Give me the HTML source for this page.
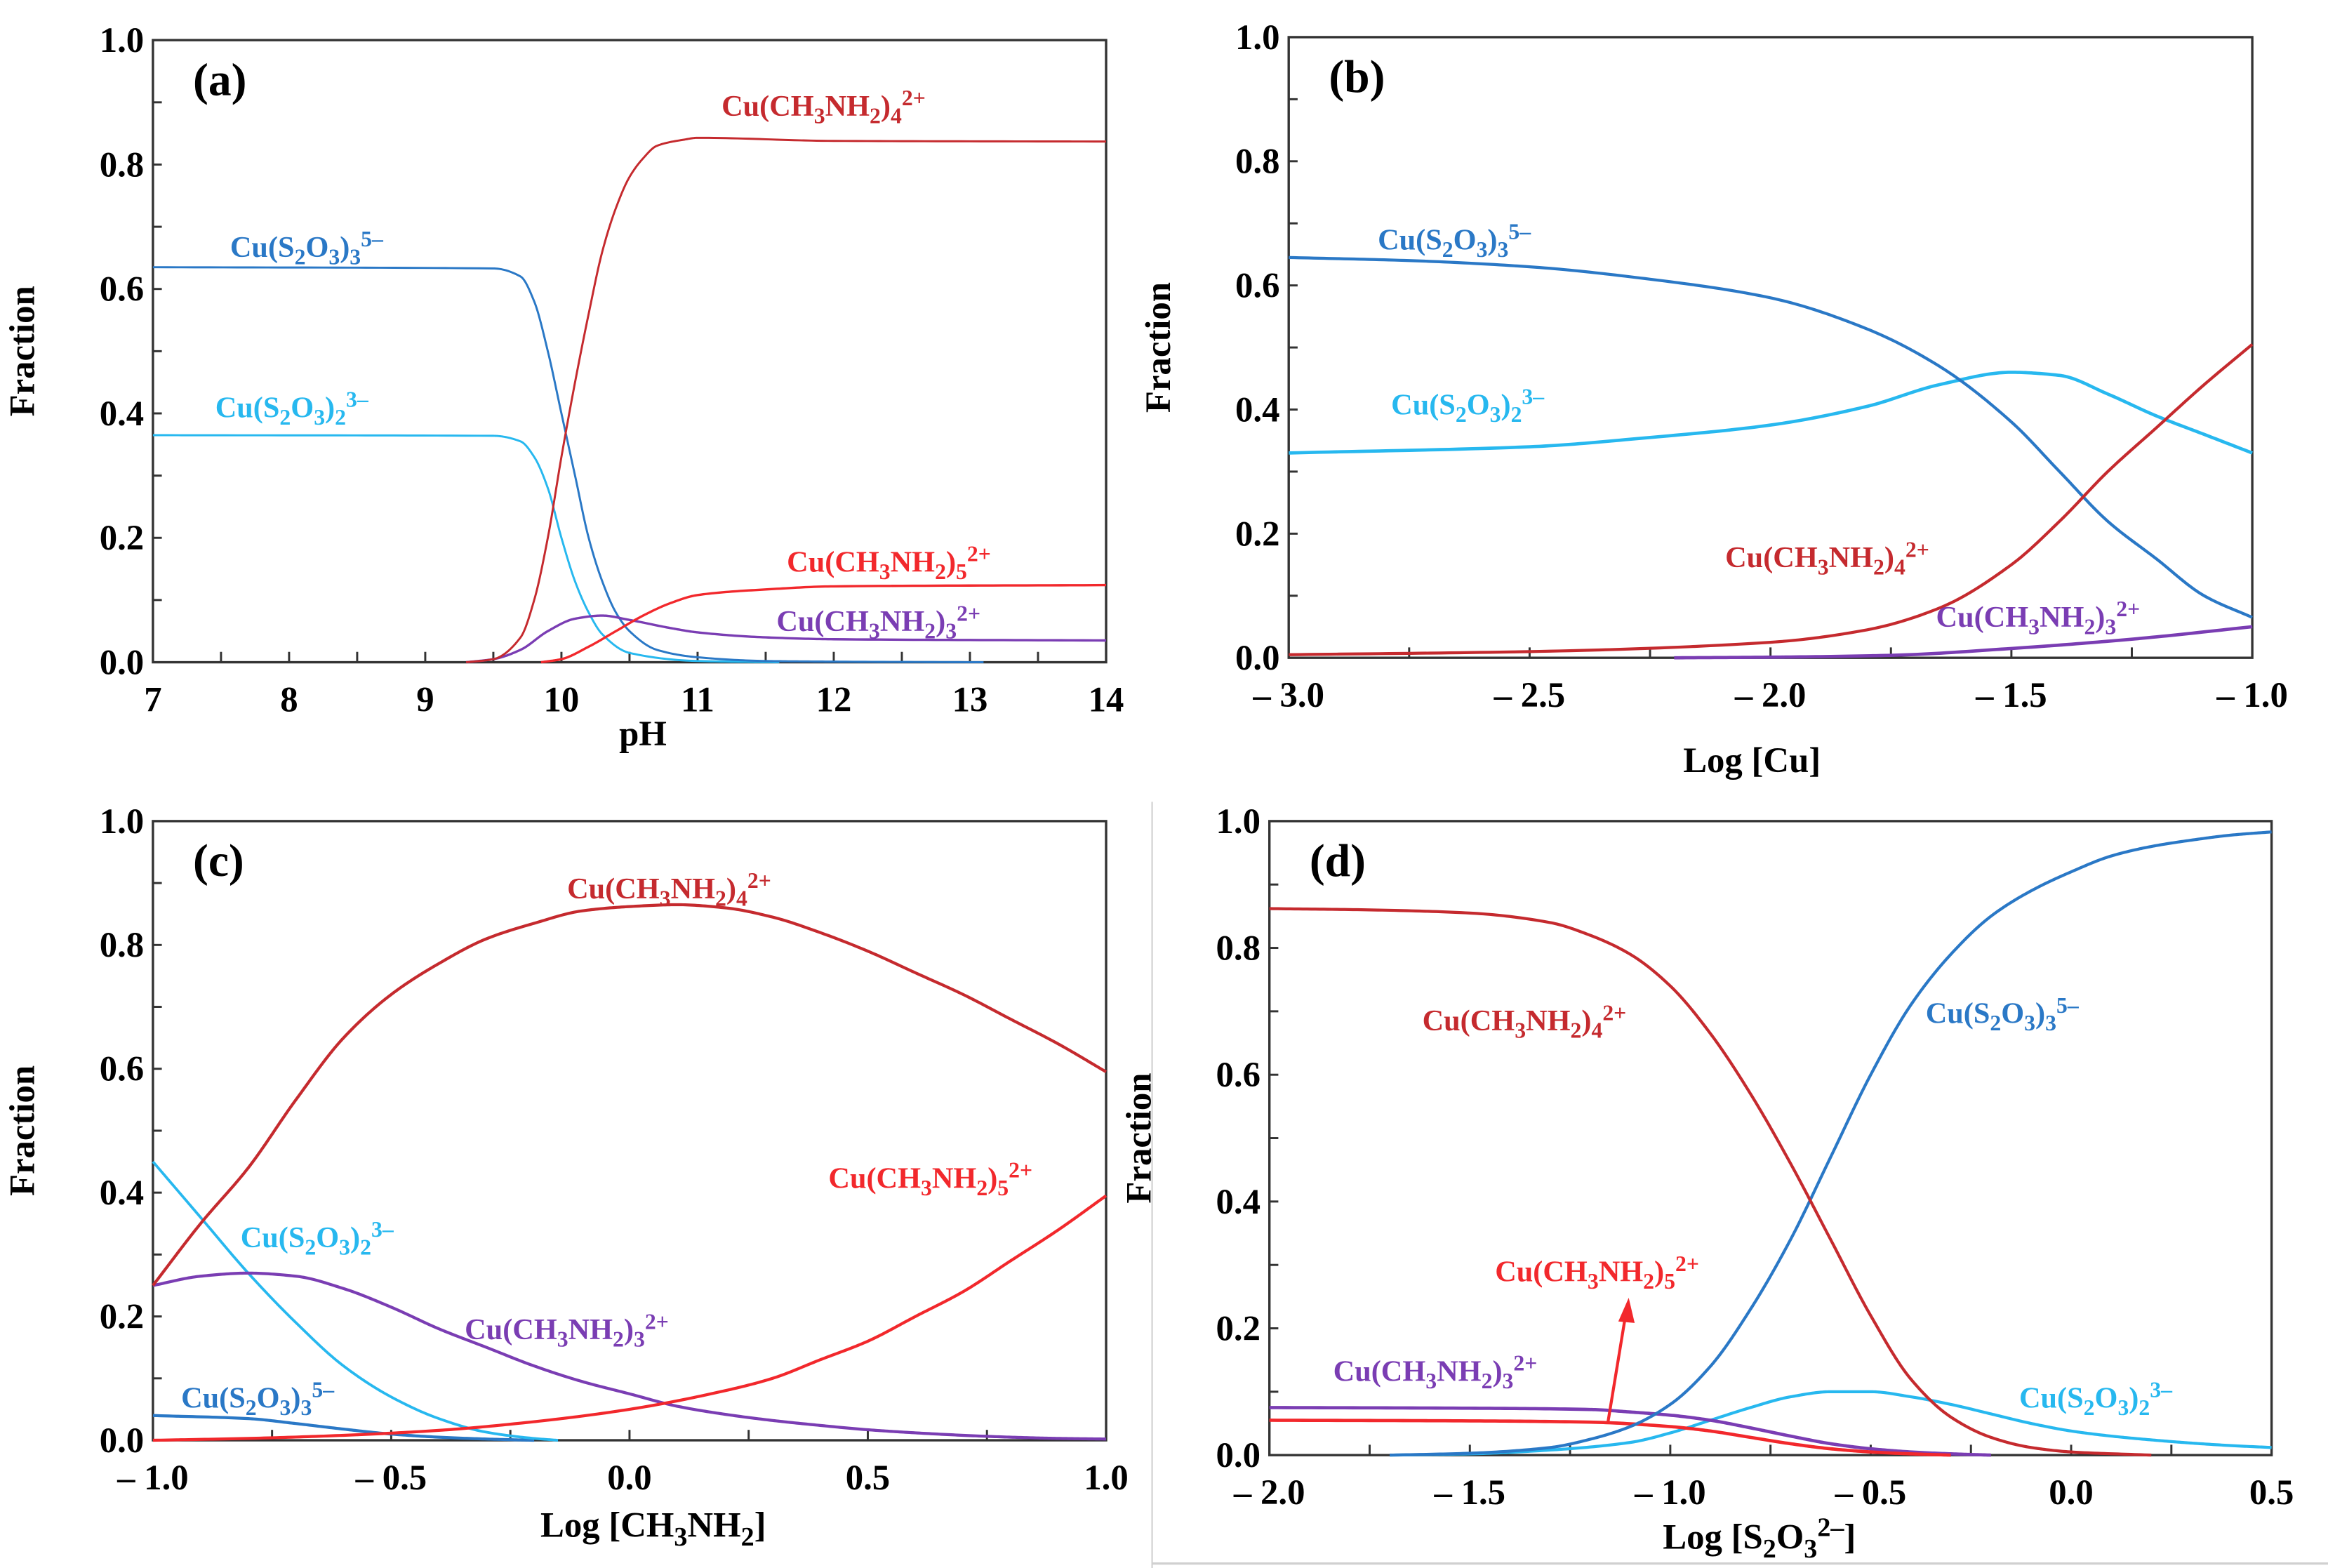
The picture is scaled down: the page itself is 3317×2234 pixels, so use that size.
<!DOCTYPE html>
<html><head><meta charset="utf-8"><style>
html,body{margin:0;padding:0;background:#fff}
svg{display:block}
text{font-family:"Liberation Serif",serif;font-weight:bold}
</style></head><body>
<svg id="fig" width="3317" height="2234" viewBox="0 0 1568 1056" xmlns="http://www.w3.org/2000/svg">
<line x1="776" y1="540" x2="776" y2="1056" stroke="#d0d0d0" stroke-width="1"/>
<line x1="776" y1="1053" x2="1568" y2="1053" stroke="#d0d0d0" stroke-width="1.5"/>
</svg>
<script>
// ---------- Data (panel a: pH) ----------
const aX_S3=[7,9.5,9.7,9.8,9.9,10.0,10.1,10.2,10.3,10.4,10.5,10.7,11,11.5,12,13.1];
const aY_S3=[0.635,0.633,0.62,0.58,0.5,0.4,0.3,0.2,0.13,0.08,0.05,0.02,0.008,0.002,0.001,0];
const aX_S2=[7,9.5,9.7,9.8,9.9,10.0,10.1,10.2,10.3,10.5,11,11.6];
const aY_S2=[0.365,0.364,0.355,0.33,0.28,0.2,0.13,0.08,0.045,0.015,0.002,0];
const aX_N4=[9.3,9.5,9.7,9.8,9.9,10.0,10.1,10.2,10.3,10.4,10.5,10.6,10.7,10.9,11,12,14];
const aY_N4=[0,0.005,0.04,0.1,0.2,0.33,0.45,0.56,0.66,0.73,0.78,0.81,0.83,0.84,0.843,0.838,0.837];
const aX_N5=[9.85,10,10.2,10.4,10.6,10.8,11,11.5,12,14];
const aY_N5=[0,0.005,0.025,0.05,0.075,0.095,0.108,0.117,0.122,0.124];
const aX_N3=[9.3,9.5,9.7,9.9,10.1,10.3,10.5,10.8,11,11.5,12,14];
const aY_N3=[0,0.005,0.02,0.05,0.07,0.075,0.068,0.055,0.048,0.04,0.037,0.035];
// ---------- panel b: Log[Cu] ----------
const bX_S3=[-3,-2.75,-2.5,-2.25,-2,-1.8,-1.65,-1.5,-1.4,-1.3,-1.2,-1.1,-1];
const bY_S3=[0.645,0.64,0.63,0.61,0.58,0.53,0.47,0.38,0.3,0.22,0.16,0.1,0.065];
const bX_S2=[-3,-2.5,-2.25,-2,-1.8,-1.65,-1.5,-1.4,-1.3,-1.2,-1.1,-1];
const bY_S2=[0.33,0.34,0.355,0.375,0.405,0.44,0.46,0.455,0.425,0.39,0.36,0.33];
const bX_N4=[-3,-2.5,-2,-1.8,-1.65,-1.5,-1.4,-1.3,-1.2,-1.1,-1];
const bY_N4=[0.005,0.01,0.025,0.045,0.08,0.15,0.22,0.3,0.37,0.44,0.505];
const bX_N3=[-2.2,-2,-1.75,-1.5,-1.25,-1];
const bY_N3=[0,0.001,0.004,0.015,0.03,0.05];
// ---------- panel c: Log[CH3NH2] ----------
const cX=[-1,-0.9,-0.8,-0.7,-0.6,-0.5,-0.4,-0.3,-0.2,-0.1,0,0.1,0.2,0.3,0.4,0.5,0.6,0.7,0.8,0.9,1];
const cY_N4=[0.25,0.35,0.44,0.55,0.65,0.72,0.77,0.81,0.835,0.855,0.862,0.865,0.86,0.845,0.82,0.79,0.755,0.72,0.68,0.64,0.595];
const cY_N3=[0.25,0.265,0.27,0.265,0.245,0.215,0.18,0.15,0.12,0.095,0.075,0.055,0.042,0.032,0.024,0.017,0.012,0.008,0.005,0.003,0.002];
const cX_N5=[-1,-0.8,-0.6,-0.4,-0.2,0,0.2,0.3,0.4,0.5,0.6,0.7,0.8,0.9,1];
const cY_N5=[0,0.003,0.008,0.016,0.03,0.05,0.08,0.1,0.13,0.16,0.2,0.24,0.29,0.34,0.395];
const cX_S2=[-1,-0.9,-0.8,-0.7,-0.6,-0.5,-0.4,-0.3,-0.2,-0.15];
const cY_S2=[0.45,0.36,0.27,0.19,0.12,0.07,0.035,0.013,0.003,0];
const cX_S3=[-1,-0.8,-0.7,-0.6,-0.5,-0.4,-0.3,-0.2];
const cY_S3=[0.04,0.035,0.027,0.018,0.01,0.005,0.002,0];
// ---------- panel d: Log[S2O3] ----------
const dX_N4=[-2,-1.75,-1.5,-1.3,-1.2,-1.1,-1,-0.9,-0.8,-0.7,-0.6,-0.5,-0.4,-0.3,-0.2,-0.1,0,0.2];
const dY_N4=[0.862,0.86,0.855,0.84,0.82,0.79,0.74,0.665,0.57,0.46,0.34,0.22,0.12,0.06,0.028,0.012,0.005,0];
const dX_S3=[-1.7,-1.5,-1.3,-1.2,-1.1,-1,-0.9,-0.8,-0.7,-0.6,-0.5,-0.4,-0.3,-0.2,-0.1,0,0.1,0.2,0.3,0.4,0.5];
const dY_S3=[0,0.003,0.012,0.025,0.045,0.08,0.14,0.23,0.34,0.47,0.6,0.71,0.79,0.85,0.89,0.92,0.945,0.96,0.97,0.978,0.983];
const dX_S2=[-1.7,-1.5,-1.3,-1.1,-1,-0.9,-0.8,-0.7,-0.6,-0.5,-0.4,-0.3,-0.2,-0.1,0,0.1,0.2,0.3,0.4,0.5];
const dY_S2=[0,0.002,0.008,0.02,0.035,0.055,0.075,0.092,0.1,0.1,0.092,0.08,0.065,0.05,0.038,0.03,0.024,0.019,0.015,0.012];
const dX_N3=[-2,-1.5,-1.2,-1.1,-1,-0.9,-0.8,-0.7,-0.6,-0.5,-0.4,-0.3,-0.2];
const dY_N3=[0.075,0.074,0.072,0.068,0.063,0.055,0.043,0.03,0.018,0.01,0.005,0.002,0];
const dX_N5=[-2,-1.5,-1.2,-1,-0.9,-0.8,-0.7,-0.6,-0.5,-0.4,-0.3];
const dY_N5=[0.055,0.054,0.052,0.045,0.038,0.028,0.018,0.01,0.005,0.002,0];
// tick labels
const yTicks=[0,0.2,0.4,0.6,0.8,1.0];
const yTickLabels=["0.0","0.2","0.4","0.6","0.8","1.0"];
const aXTicks=[7,8,9,10,11,12,13,14];
const aXTickLabels=["7","8","9","10","11","12","13","14"];
const bXTicks=[-3,-2.5,-2,-1.5,-1];
const bXTickLabels=["\u2013 3.0","\u2013 2.5","\u2013 2.0","\u2013 1.5","\u2013 1.0"];
const cXTicks=[-1,-0.5,0,0.5,1];
const cXTickLabels=["\u2013 1.0","\u2013 0.5","0.0","0.5","1.0"];
const dXTicks=[-2,-1.5,-1,-0.5,0,0.5];
const dXTickLabels=["\u2013 2.0","\u2013 1.5","\u2013 1.0","\u2013 0.5","0.0","0.5"];

const NS="http://www.w3.org/2000/svg";
const svg=document.getElementById('fig');
const C={blue:"#2a78c6",lblue:"#27b8ef",dred:"#c52a2e",red:"#f2282c",purple:"#7a3db3"};
function el(tag,attrs,parent){const e=document.createElementNS(NS,tag);for(const k in attrs)e.setAttribute(k,attrs[k]);(parent||svg).appendChild(e);return e;}

function makePanel(p){
  const g=el('g',{});
  
  
  p.sx=v=>p.L+(v-p.x0)/(p.x1-p.x0)*(p.R-p.L);
  p.sy=v=>p.B-v*(p.B-p.T);
  p.g=g;
  const fr=el('rect',{x:p.L,y:p.T,width:p.R-p.L,height:p.B-p.T,fill:'none',stroke:'#333',"stroke-width":1.6},g);
  
  
  for(let i=1;i<10;i++){
    const t=el('line',{x1:p.L,x2:p.L+6,y1:p.sy(i/10),y2:p.sy(i/10),stroke:'#333',"stroke-width":1.4},g);
    
    
  }
  for(let v=p.x0+p.xminor;v<p.x1-1e-9;v+=p.xminor){
    const t=el('line',{x1:p.sx(v),x2:p.sx(v),y1:p.B,y2:p.B-7,stroke:'#333',"stroke-width":1.4},g);
    
    
  }
  yTicks.forEach((v,i)=>{
    const t=el('text',{x:p.L-6,y:p.sy(v)+8,"text-anchor":"end","font-size":24},g);
    t.textContent=yTickLabels[i];
    
    
  });
  p.xt.forEach((v,i)=>{
    const t=el('text',{x:p.sx(v),y:p.B+33,"text-anchor":"middle","font-size":24},g);
    t.textContent=p.xtl[i];
    
    
  });
  const yt=el('text',{x:0,y:0,"text-anchor":"middle","font-size":24,transform:`translate(${p.L-80},${(p.T+p.B)/2}) rotate(-90)`},g);
  yt.textContent='Fraction';
  
  
  const pl=el('text',{x:p.L+27,y:p.T+37,"font-size":31},g);
  pl.textContent='('+p.id+')';
  
  
  return p;
}
// monotone cubic (Fritsch-Carlson) interpolation, sampled densely
function monotone(xs,ys){
  const n=xs.length,h=[],s=[],m=new Array(n);
  for(let i=0;i<n-1;i++){h.push(xs[i+1]-xs[i]);s.push((ys[i+1]-ys[i])/h[i]);}
  m[0]=s[0];m[n-1]=s[n-2];
  for(let i=1;i<n-1;i++){
    if(s[i-1]*s[i]<=0)m[i]=0;
    else{const w1=2*h[i]+h[i-1],w2=h[i]+2*h[i-1];m[i]=(w1+w2)/(w1/s[i-1]+w2/s[i]);}
  }
  const out=[];
  for(let i=0;i<n-1;i++){
    const N=24;
    for(let k=0;k<N;k++){
      const t=k/N,t2=t*t,t3=t2*t;
      const y=(2*t3-3*t2+1)*ys[i]+(t3-2*t2+t)*h[i]*m[i]+(-2*t3+3*t2)*ys[i+1]+(t3-t2)*h[i]*m[i+1];
      out.push([xs[i]+t*h[i],y]);
    }
  }
  out.push([xs[n-1],ys[n-1]]);
  return out;
}
function line(p,xs,ys,color,name,w){
  const pts=monotone(xs,ys);
  const d=pts.map((q,i)=>(i?'L':'M')+p.sx(q[0]).toFixed(2)+','+p.sy(q[1]).toFixed(2)).join(' ');
  const path=el('path',{d:d,fill:'none',stroke:color,"stroke-width":w||1.8,"stroke-linejoin":"round"},p.g);
  
  
}
function rich(parent,x,y,segs,color,size,name){
  const t=el('text',{x:x,y:y,fill:color,"font-size":size},parent);
  
  
  let cur='n';
  segs.forEach(s=>{
    const ts=document.createElementNS(NS,'tspan');
    const off={n:0,b:size*0.25,p:-size*0.35};
    ts.setAttribute('dy',(off[s[1]]-off[cur]).toFixed(2));
    if(s[1]!=='n')ts.setAttribute('font-size',(size*0.75).toFixed(1));
    ts.textContent=s[0];
    t.appendChild(ts);cur=s[1];
  });
  return t;
}
const L_N4=[["Cu(CH","n"],["3","b"],["NH","n"],["2","b"],[")","n"],["4","b"],["2+","p"]];
const L_N5=[["Cu(CH","n"],["3","b"],["NH","n"],["2","b"],[")","n"],["5","b"],["2+","p"]];
const L_N3=[["Cu(CH","n"],["3","b"],["NH","n"],["2","b"],[")","n"],["3","b"],["2+","p"]];
const L_S3=[["Cu(S","n"],["2","b"],["O","n"],["3","b"],[")","n"],["3","b"],["5\u2013","p"]];
const L_S2=[["Cu(S","n"],["2","b"],["O","n"],["3","b"],[")","n"],["2","b"],["3\u2013","p"]];
const FS=20;

// panel a
const A=makePanel({id:'a',L:103,R:745,T:27,B:446,x0:7,x1:14,xminor:0.5,xt:aXTicks,xtl:aXTickLabels});
line(A,aX_S2,aY_S2,C.lblue,'series-cu-s2o3-2',1.4);
line(A,aX_S3,aY_S3,C.blue,'series-cu-s2o3-3',1.4);
line(A,aX_N3,aY_N3,C.purple,'series-cu-ch3nh2-3',1.6);
line(A,aX_N5,aY_N5,C.red,'series-cu-ch3nh2-5',1.6);
line(A,aX_N4,aY_N4,C.dred,'series-cu-ch3nh2-4',1.4);
rich(A.g,486,78,L_N4,C.dred,FS,'label-cu-ch3nh2-4');
rich(A.g,155,173,L_S3,C.blue,FS,'label-cu-s2o3-3');
rich(A.g,145,281,L_S2,C.lblue,FS,'label-cu-s2o3-2');
rich(A.g,530,385,L_N5,C.red,FS,'label-cu-ch3nh2-5');
rich(A.g,523,425,L_N3,C.purple,FS,'label-cu-ch3nh2-3');
const at=el('text',{x:433,y:502,"text-anchor":"middle","font-size":24},A.g);
at.textContent='pH';



// panel b
const Bp=makePanel({id:'b',L:868,R:1517,T:25,B:443,x0:-3,x1:-1,xminor:0.25,xt:bXTicks,xtl:bXTickLabels});
line(Bp,bX_S2,bY_S2,C.lblue,'series-cu-s2o3-2',2.2);
line(Bp,bX_S3,bY_S3,C.blue,'series-cu-s2o3-3',2);
line(Bp,bX_N3,bY_N3,C.purple,'series-cu-ch3nh2-3',2.2);
line(Bp,bX_N4,bY_N4,C.dred,'series-cu-ch3nh2-4',2);
rich(Bp.g,928,168,L_S3,C.blue,FS,'label-cu-s2o3-3');
rich(Bp.g,937,279,L_S2,C.lblue,FS,'label-cu-s2o3-2');
rich(Bp.g,1162,382,L_N4,C.dred,FS,'label-cu-ch3nh2-4');
rich(Bp.g,1304,422,L_N3,C.purple,FS,'label-cu-ch3nh2-3');
const bt=el('text',{x:1180,y:520,"text-anchor":"middle","font-size":24},Bp.g);
bt.textContent='Log [Cu]';



// panel c
const Cp=makePanel({id:'c',L:103,R:745,T:553,B:970,x0:-1,x1:1,xminor:0.25,xt:cXTicks,xtl:cXTickLabels});
line(Cp,cX_S3,cY_S3,C.blue,'series-cu-s2o3-3',2);
line(Cp,cX_S2,cY_S2,C.lblue,'series-cu-s2o3-2',1.8);
line(Cp,cX,cY_N3,C.purple,'series-cu-ch3nh2-3',2);
line(Cp,cX_N5,cY_N5,C.red,'series-cu-ch3nh2-5',2);
line(Cp,cX,cY_N4,C.dred,'series-cu-ch3nh2-4',2);
rich(Cp.g,382,605,L_N4,C.dred,FS,'label-cu-ch3nh2-4');
rich(Cp.g,558,800,L_N5,C.red,FS,'label-cu-ch3nh2-5');
rich(Cp.g,162,840,L_S2,C.lblue,FS,'label-cu-s2o3-2');
rich(Cp.g,313,902,L_N3,C.purple,FS,'label-cu-ch3nh2-3');
rich(Cp.g,122,948,L_S3,C.blue,FS,'label-cu-s2o3-3');
const ct=rich(Cp.g,0,0,[["Log [CH","n"],["3","b"],["NH","n"],["2","b"],["]","n"]],'#000',24,'x-axis-title');
ct.setAttribute('x',364);ct.setAttribute('y',1035);

// panel d
const Dp=makePanel({id:'d',L:855,R:1530,T:553,B:980,x0:-2,x1:0.5,xminor:0.25,xt:dXTicks,xtl:dXTickLabels});
line(Dp,dX_S2,dY_S2,C.lblue,'series-cu-s2o3-2',2);
line(Dp,dX_N3,dY_N3,C.purple,'series-cu-ch3nh2-3',2.2);
line(Dp,dX_N5,dY_N5,C.red,'series-cu-ch3nh2-5',2.2);
line(Dp,dX_S3,dY_S3,C.blue,'series-cu-s2o3-3',2);
line(Dp,dX_N4,dY_N4,C.dred,'series-cu-ch3nh2-4',2);
rich(Dp.g,958,694,L_N4,C.dred,FS,'label-cu-ch3nh2-4');
rich(Dp.g,1297,689,L_S3,C.blue,FS,'label-cu-s2o3-3');
rich(Dp.g,1007,863,L_N5,C.red,FS,'label-cu-ch3nh2-5');
rich(Dp.g,898,930,L_N3,C.purple,FS,'label-cu-ch3nh2-3');
rich(Dp.g,1360,948,L_S2,C.lblue,FS,'label-cu-s2o3-2');
const arr=el('line',{x1:1083,y1:958,x2:1095,y2:885,stroke:C.red,"stroke-width":2},Dp.g);


const ah=el('polygon',{points:"1097,874 1090,890 1101,891",fill:C.red},Dp.g);


const dt=rich(Dp.g,0,0,[["Log [S","n"],["2","b"],["O","n"],["3","b"],["2\u2013","p"],["]","n"]],'#000',24,'x-axis-title');
dt.setAttribute('x',1120);dt.setAttribute('y',1043);
</script>
</body></html>
